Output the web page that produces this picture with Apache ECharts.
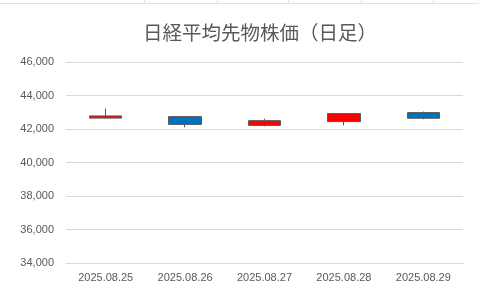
<!DOCTYPE html>
<html><head><meta charset="utf-8">
<script src="https://cdn.jsdelivr.net/npm/echarts@6/dist/echarts.min.js"></script>
<style>html,body{margin:0;padding:0;background:#fff}#c{width:479px;height:291px}</style>
</head><body><div id="c"></div>
<script>
var categories = ['2025.08.25','2025.08.26','2025.08.27','2025.08.28','2025.08.29'];
var openVals  = [42650, 42740, 42216, 42440, 42980];
var closeVals = [42780, 42276, 42500, 42920, 42640];
var lowVals   = [42640, 42100, 42160, 42216, 42580];
var highVals  = [43220, 42740, 42620, 42920, 43040];
var yMin = 34000, yMax = 46000, yStep = 2000;

var ohlc = categories.map(function(_, i){ return [openVals[i], closeVals[i], lowVals[i], highVals[i]]; });
var chart = echarts.init(document.getElementById('c'), null, {renderer:'canvas'});
var cellX = [144, 217, 288, 361, 433];
var graphics = [{type:'line', shape:{x1:0,y1:3.5,x2:479,y2:3.5}, style:{stroke:'#e0e0e0', lineWidth:1}, silent:true}];
cellX.forEach(function(x){ graphics.push({type:'line', shape:{x1:x+0.5,y1:0,x2:x+0.5,y2:3.5}, style:{stroke:'#e0e0e0', lineWidth:1}, silent:true}); });
chart.setOption({
  animation:false,
  graphic: graphics,
  title:{text:'日経平均先物株価（日足）', left:138, top:18,
    textStyle:{fontFamily:'Noto Sans CJK JP', fontSize:19.5, fontWeight:'normal', color:'#595959'}},
  grid:{left:66, right:16, top:62, bottom:28},
  xAxis:{type:'category', data:categories,
    axisLine:{show:true, lineStyle:{color:'#d9d9d9'}}, axisTick:{show:false},
    axisLabel:{color:'#595959', fontSize:11, fontFamily:'Liberation Sans', margin:9}},
  yAxis:{type:'value', min:yMin, max:yMax, interval:yStep,
    axisLine:{show:false}, axisTick:{show:false},
    splitLine:{lineStyle:{color:'#d9d9d9'}},
    axisLabel:{color:'#595959', fontSize:11, fontFamily:'Liberation Sans', margin:12,
      formatter:function(v){ return v.toLocaleString('en-US'); }}},
  series:[{type:'candlestick', data:ohlc, barWidth:33,
    itemStyle:{color:'#ff0000', color0:'#0070c0', borderColor:'#595959', borderColor0:'#595959', borderWidth:1}}]
});
</script></body></html>
